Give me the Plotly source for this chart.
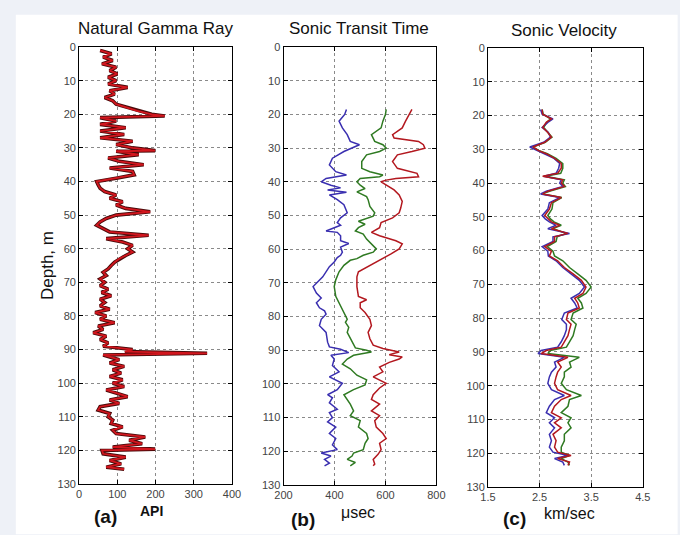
import plotly.graph_objects as go

W, H = 680, 535

# ---------------- data ----------------
gr_depth = [1, 2, 3, 4, 5, 6, 7, 8, 9, 10, 11, 12, 13, 14, 15, 16, 17, 18, 19, 20, 20.5, 21, 22, 23, 24, 25,
            26, 27, 28, 29, 30, 30.8, 31, 32, 33, 34, 35, 36, 37, 38, 39, 40, 41, 42, 43, 44, 45, 46, 47, 48,
            49, 50, 51, 52, 53, 54, 55, 56, 57, 58, 59, 60, 61, 62, 63, 64, 65, 66, 67, 68, 69, 70, 71, 72,
            73, 74, 75, 76, 77, 78, 79, 80, 81, 82, 83, 84, 85, 86, 87, 88, 89, 90, 90.6, 91.1, 91.6, 93,
            94, 95, 96, 97, 98, 99, 100, 101, 102, 103, 104, 105, 106, 107, 108, 109, 110, 111, 112, 113,
            114, 115, 116, 117, 118, 119, 119.6, 120, 121, 122, 123, 124, 125, 125.6]
gr_api = [55, 85, 63, 88, 60, 97, 80, 100, 76, 97, 76, 127, 80, 93, 67, 88, 97, 127, 152, 190, 224, 55, 97, 55,
          122, 55, 118, 55, 140, 97, 140, 199, 97, 156, 76, 105, 169, 80, 140, 144, 97, 46, 50, 55, 67, 97,
          80, 114, 97, 122, 186, 97, 71, 55, 46, 63, 80, 182, 71, 114, 140, 127, 140, 122, 105, 93, 84, 76,
          63, 71, 55, 67, 55, 76, 59, 84, 55, 67, 55, 80, 42, 71, 55, 93, 50, 63, 37, 71, 55, 76, 63, 140,
          120, 335, 63, 105, 80, 118, 88, 110, 80, 114, 88, 118, 71, 97, 127, 80, 105, 55, 50, 80, 76, 88,
          84, 114, 88, 97, 173, 131, 165, 88, 199, 60, 63, 122, 80, 110, 71, 118]

tt_blue_depth = [18.5, 20, 22, 24, 26, 28, 29, 30, 31, 33, 35, 37, 38, 39, 40, 41, 41.8, 42.4, 43.1, 43.9,
                 45.3, 46.8, 49.2, 50.7, 52.1, 52.9, 53.6, 54.6, 55.0, 56.0, 57.5, 58.3, 59.4, 60.9, 61.8,
                 62.5, 63.8, 65.2, 68.2, 70.1, 71.1, 73.0, 74.5, 75.9, 77.4, 78.3, 79.3, 80.8, 82.7, 84.7,
                 87.6, 89.0, 89.7, 90.7, 91.5, 92.6, 94.5, 96.4, 97.9, 99.8, 101.7, 103.2, 104.1, 105.6,
                 107.5, 108.5, 110, 111.3, 112.8, 114.7, 116.2, 118.1, 119.5, 120.5, 121.4, 122.4, 123.5, 124.3]
tt_blue = [447, 440, 418, 431, 450, 462, 498, 469, 437, 392, 380, 405, 447, 367, 348, 386, 424, 373, 447, 380,
           411, 437, 450, 424, 411, 424, 399, 367, 411, 424, 424, 456, 424, 431, 424, 411, 399, 380, 354, 329,
           316, 329, 348, 329, 341, 361, 367, 348, 341, 367, 373, 380, 424, 456, 386, 399, 392, 418, 380, 431,
           411, 373, 392, 380, 411, 380, 392, 373, 405, 380, 405, 392, 411, 348, 386, 361, 380, 361]

tt_green_depth = [18.5, 20, 22, 24, 26, 28, 29, 30, 31, 32, 34, 36, 37, 38, 38.5, 39, 40, 41, 42, 43, 44.4,
                  45.3, 47.3, 49.2, 50.2, 51.2, 51.7, 52.6, 53.6, 54.6, 55.5, 57.0, 58.4, 59.9, 60.9, 61.8,
                  62.8, 63.3, 64.8, 66.7, 69.1, 71.1, 74.0, 76.9, 78.8, 80.8, 81.7, 83.2, 84.7, 86.6, 88.5,
                  89.3, 90.0, 90.5, 91.5, 92.6, 94.1, 95.5, 97.4, 98.8, 100.3, 101.7, 103.2, 104.6, 106.0,
                  108.0, 109.4, 110.9, 112.8, 114.7, 116.2, 117.6, 119.5, 120.5, 121.4, 122.4, 123.3, 124.3]
tt_green = [603, 600, 590, 583, 545, 558, 590, 603, 577, 526, 507, 507, 539, 590, 577, 501, 488, 501, 520, 488,
            526, 532, 539, 558, 552, 513, 494, 520, 494, 482, 513, 526, 545, 564, 552, 513, 488, 462, 437, 418,
            405, 399, 405, 424, 437, 450, 443, 456, 450, 462, 475, 482, 526, 545, 475, 450, 431, 462, 488, 526,
            520, 475, 437, 450, 462, 475, 462, 501, 494, 526, 532, 520, 513, 475, 469, 450, 482, 462]

tt_red_depth = [18.5, 20, 22, 24, 26, 27, 28, 29, 30, 31, 32, 34, 36, 37.5, 38.5, 39, 39.5, 40, 41, 42.4,
                43.9, 45.8, 47.8, 49.2, 50.7, 52.1, 53.6, 55.0, 56.0, 57.5, 58.4, 59.9, 61.4, 63.3, 65.2,
                66.7, 68.2, 71.1, 74.0, 75.0, 75.9, 77.4, 78.8, 80.8, 82.7, 84.7, 86.6, 88.5, 89.5, 90.5,
                91.3, 92.0, 92.6, 93.6, 95.0, 96.4, 97.9, 99.8, 101.2, 103.2, 104.6, 106.0, 108.0, 109.4,
                110.9, 112.8, 114.7, 116.2, 117.6, 119.5, 120.9, 122.4, 123.8, 124.3]
tt_red = [704, 692, 679, 666, 628, 634, 730, 749, 755, 704, 647, 628, 647, 724, 730, 641, 603, 583, 603, 634,
          654, 666, 660, 654, 628, 583, 577, 545, 577, 641, 666, 654, 622, 577, 526, 494, 488, 488, 494, 526,
          501, 501, 520, 539, 545, 532, 539, 552, 590, 654, 615, 666, 654, 615, 577, 590, 552, 603, 577, 552,
          545, 577, 545, 577, 558, 564, 590, 603, 577, 583, 571, 552, 558, 552]

sv_depth = [18.2, 19.6, 21.0, 22.0, 23.5, 25.0, 26.4, 27.9, 29.3, 30.3, 31.3, 32.7, 34.2, 35.6, 37.1, 38.0,
            39.0, 40.0, 41.0, 42.4, 43.2, 44.3, 45.8, 47.7, 49.6, 50.6, 51.5, 52.5, 53.5, 54.9, 55.9, 57.3,
            58.8, 60.2, 61.6, 63.0, 65.0, 66.9, 68.8, 70.8, 72.7, 74.1, 75.5, 77.0, 78.5, 80.4, 81.8, 83.4,
            85.2, 87.0, 88.6, 89.6, 90.5, 91.6, 93.0, 94.5, 96.0, 97.4, 99.3, 101.2, 102.9, 104.1, 106.1,
            108.0, 109.5, 111.0, 112.5, 114.4, 116.3, 118.2, 119.7, 120.7, 121.6, 122.6, 123.6]
sv_blue = [2.52, 2.55, 2.76, 2.66, 2.55, 2.67, 2.71, 2.58, 2.31, 2.44, 2.60, 2.78, 2.89, 2.87, 2.82, 2.58,
           2.92, 2.89, 2.95, 2.63, 2.52, 2.89, 2.69, 2.66, 2.55, 2.61, 2.69, 2.82, 2.66, 3.08, 2.76, 2.76,
           2.55, 2.66, 2.67, 2.82, 2.95, 3.11, 3.27, 3.37, 3.27, 3.11, 3.18, 3.23, 2.98, 2.93, 3.02, 3.02,
           2.98, 2.92, 2.85, 2.53, 2.47, 2.98, 2.79, 2.82, 2.73, 2.69, 2.66, 2.73, 2.98, 2.79, 2.69, 2.63,
           2.79, 2.69, 2.79, 2.69, 2.73, 2.69, 2.76, 3.05, 2.79, 2.95, 2.98]
sv_green = [2.55, 2.57, 2.71, 2.64, 2.58, 2.67, 2.74, 2.61, 2.37, 2.48, 2.65, 2.82, 2.95, 2.95, 2.91, 2.61,
            2.98, 2.95, 3.00, 2.69, 2.56, 2.93, 2.76, 2.74, 2.66, 2.71, 2.78, 2.92, 2.76, 3.02, 2.84, 2.82,
            2.65, 2.76, 2.79, 2.95, 3.08, 3.24, 3.40, 3.50, 3.40, 3.24, 3.31, 3.34, 3.15, 3.11, 3.21, 3.18,
            3.15, 3.08, 3.02, 2.71, 2.66, 3.27, 3.08, 3.11, 2.98, 2.98, 2.92, 3.02, 3.31, 3.08, 3.05, 2.92,
            3.11, 3.05, 3.11, 2.98, 2.98, 2.92, 2.92, 3.08, 2.92, 3.05, 3.08]
sv_red = [2.55, 2.56, 2.73, 2.63, 2.56, 2.66, 2.73, 2.60, 2.37, 2.47, 2.63, 2.79, 2.92, 2.92, 2.85, 2.56,
          2.95, 2.92, 2.98, 2.66, 2.56, 2.92, 2.73, 2.69, 2.60, 2.66, 2.73, 2.89, 2.73, 3.05, 2.79, 2.79,
          2.60, 2.73, 2.69, 2.85, 2.98, 3.15, 3.31, 3.40, 3.34, 3.18, 3.24, 3.27, 3.05, 3.02, 3.11, 3.08,
          3.05, 2.98, 2.92, 2.63, 2.53, 3.05, 2.85, 2.92, 2.85, 2.82, 2.79, 2.85, 3.11, 2.92, 2.79, 2.73,
          2.92, 2.79, 2.92, 2.76, 2.82, 2.79, 2.85, 3.11, 2.85, 3.08, 3.05]

depth_ticks = list(range(0, 131, 10))
gr_ticks = [0, 100, 200, 300, 400]
tt_ticks = [200, 400, 600, 800]
sv_ticks = [1.5, 2.5, 3.5, 4.5]
sv_ticklabels = ["1.5", "2.5", "3.5", "4.5"]

# ---------------- layout helpers ----------------
def px(x):
    return x / W


def py(y):
    return 1 - y / H


FONT = "Liberation Sans, Arial, sans-serif"
BLUE = "#3a2fb0"
GREEN = "#2f7a22"
RED = "#b3181f"

fig = go.Figure()

# Gamma ray (dark outline + red core)
fig.add_trace(go.Scatter(x=gr_api, y=gr_depth, mode="lines", line=dict(color="#4a0a0a", width=3.6),
                         xaxis="x", yaxis="y", showlegend=False, hoverinfo="skip"))
fig.add_trace(go.Scatter(x=gr_api, y=gr_depth, mode="lines", line=dict(color="#d2161e", width=1.8),
                         xaxis="x", yaxis="y", showlegend=False))

# Transit time
for xs, ys, c in [(tt_blue, tt_blue_depth, BLUE), (tt_green, tt_green_depth, GREEN), (tt_red, tt_red_depth, RED)]:
    fig.add_trace(go.Scatter(x=xs, y=ys, mode="lines", line=dict(color=c, width=1.5),
                             xaxis="x2", yaxis="y2", showlegend=False))

# Velocity
for xs, c in [(sv_green, GREEN), (sv_blue, BLUE), (sv_red, RED)]:
    fig.add_trace(go.Scatter(x=xs, y=sv_depth, mode="lines", line=dict(color=c, width=1.5),
                             xaxis="x3", yaxis="y3", showlegend=False))

tickfont = dict(family=FONT, size=11, color="#444")


def xax(domain, rng, tv, tt=None, anchor="y"):
    d = dict(domain=domain, range=rng, tickvals=tv, anchor=anchor, showline=True, linecolor="black",
             linewidth=1, mirror="ticks", ticks="inside", ticklen=4, tickcolor="black", showgrid=True,
             gridcolor="#8a8a8a", griddash="dot", gridwidth=1, zeroline=False, tickfont=tickfont,
             fixedrange=True)
    if tt is not None:
        d["ticktext"] = tt
    return d


def yax(domain, anchor):
    return dict(domain=domain, range=[130, 0], tickvals=depth_ticks, anchor=anchor, showline=True,
                linecolor="black", linewidth=1, mirror="ticks", ticks="inside", ticklen=4, tickcolor="black",
                showgrid=True, gridcolor="#8a8a8a", griddash="dot", gridwidth=1, zeroline=False,
                tickfont=tickfont, fixedrange=True)


fig.update_layout(
    width=W, height=H,
    margin=dict(l=0, r=0, t=0, b=0),
    paper_bgcolor="#eef1f7",
    plot_bgcolor="white",
    font=dict(family=FONT, color="#222"),
    xaxis=xax([px(72), px(229)], [0, 400], gr_ticks, anchor="y"),
    yaxis=yax([py(489), py(42)], "x"),
    xaxis2=xax([px(282), px(439)], [200, 800], tt_ticks, anchor="y2"),
    yaxis2=yax([py(490), py(42)], "x2"),
    xaxis3=xax([px(492), px(651)], [1.5, 4.5], sv_ticks, sv_ticklabels, anchor="y3"),
    yaxis3=yax([py(492), py(43)], "x3"),
    shapes=[dict(type="rect", xref="paper", yref="paper", x0=px(7), x1=1.01, y0=-0.01, y1=py(9),
                 fillcolor="white", line=dict(width=0), layer="below")],
)

ann = []


def text(x, y, s, size, bold=False, angle=0, color="#111"):
    ann.append(dict(x=px(x), y=py(y), xref="paper", yref="paper", text=("<b>%s</b>" % s) if bold else s,
                    showarrow=False, xanchor="center", yanchor="middle", textangle=angle,
                    font=dict(family=FONT, size=size, color=color)))


text(150, 23, "Natural Gamma Ray", 17)
text(360, 23, "Sonic Transit Time", 17)
text(570, 25, "Sonic Velocity", 17)
text(39, 265, "Depth, m", 17, angle=-90)
text(99, 522, "(a)", 19, bold=True)
text(146, 517, "API", 14, bold=True)
text(302, 525, "(b)", 19, bold=True)
text(358, 518, "\u03bcsec", 16)
text(519, 524, "(c)", 19, bold=True)
text(576, 519, "km/sec", 16)
fig.update_layout(annotations=ann)

fig.write_html("out.html")
